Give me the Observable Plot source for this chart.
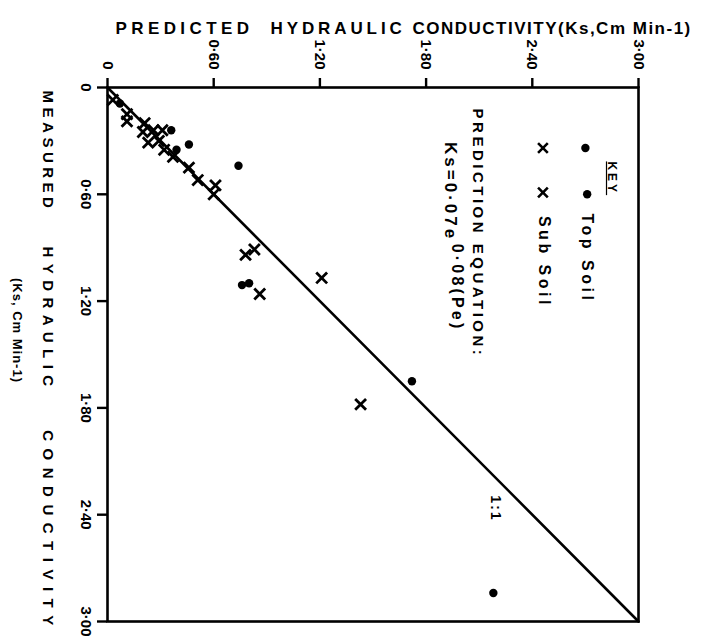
<!DOCTYPE html>
<html><head><meta charset="utf-8">
<script src="https://cdn.jsdelivr.net/npm/d3@7"></script>
<script src="https://cdn.jsdelivr.net/npm/@observablehq/plot@0.6"></script>
<style>body{margin:0;background:#fff}</style>
</head><body><div id="chart"></div>
<script>
// Axis ticks
const tickValues = [0, 0.6, 1.2, 1.8, 2.4, 3.0];
const tickLabels = ["0", "0·60", "1·20", "1·80", "2·40", "3·00"];
// Top soil (dots): predicted Ks, measured Ks
const topSoilPredicted = [0.07, 0.36, 0.39, 0.46, 0.74, 0.76, 0.80, 1.72, 2.18];
const topSoilMeasured  = [0.09, 0.24, 0.35, 0.32, 0.44, 1.11, 1.10, 1.65, 2.84];
// Sub soil (crosses)
const subSoilPredicted = [0.03, 0.11, 0.11, 0.21, 0.20, 0.26, 0.31, 0.23, 0.29, 0.32, 0.37, 0.46, 0.51, 0.61, 0.60, 0.78, 0.83, 0.86, 1.21, 1.43];
const subSoilMeasured  = [0.07, 0.15, 0.19, 0.20, 0.25, 0.24, 0.24, 0.31, 0.30, 0.35, 0.39, 0.45, 0.52, 0.55, 0.60, 0.94, 0.91, 1.16, 1.07, 1.78];
// 1:1 line
const identityLine = [0, 3];
// Axis title words
const predictedTitle = ["PREDICTED", "HYDRAULIC", "CONDUCTIVITY(Ks,Cm Min-1)"];
const measuredTitle = ["MEASURED", "HYDRAULIC", "CONDUCTIVITY"];
// Legend & annotation anchors (data units)
const legendTopSoil = [{p: 2.70, m: 0.34}, {p: 2.71, m: 0.60}];
const legendSubSoil = [{p: 2.46, m: 0.34}, {p: 2.46, m: 0.59}];

const topSoil = topSoilPredicted.map((p, i) => ({p, m: topSoilMeasured[i]}));
const subSoil = subSoilPredicted.map((p, i) => ({p, m: subSoilMeasured[i]}));

const font = "'Liberation Sans', Arial, sans-serif";
const B = {fontWeight: "bold", fill: "black"};

const chart = Plot.plot({
  width: 717, height: 643,
  marginLeft: 107, marginRight: 79, marginTop: 87, marginBottom: 22,
  x: {domain: [0, 3], label: null},
  y: {domain: [0, 3], reverse: true, label: null},
  style: {fontFamily: font, background: "white", color: "black"},
  marks: [
    Plot.frame({stroke: "black", strokeWidth: 2.6}),
    Plot.axisX({anchor: "top", ticks: tickValues, tickSize: 10, tickFormat: () => "", label: null, strokeWidth: 2.4}),
    Plot.axisY({anchor: "left", ticks: tickValues, tickSize: 10, tickFormat: () => "", label: null, strokeWidth: 2.4}),
    Plot.text(tickValues, {x: d => d, text: (d, i) => tickLabels[i], frameAnchor: "top", dy: -18, rotate: 90, textAnchor: "end", lineAnchor: "middle", fontSize: 15, ...B}),
    Plot.text(tickValues, {y: d => d, text: (d, i) => tickLabels[i], frameAnchor: "left", dx: -22, rotate: 90, textAnchor: "middle", lineAnchor: "middle", fontSize: 15, ...B}),
    Plot.line(identityLine, {x: d => d, y: d => d, stroke: "black", strokeWidth: 2.6}),
    Plot.dot(topSoil, {x: "p", y: "m", r: 4.2, fill: "black", stroke: "none"}),
    Plot.dot(subSoil, {x: "p", y: "m", symbol: "times", r: 5, stroke: "black", strokeWidth: 2.8}),
    // predicted axis title (horizontal, above)
    Plot.text([predictedTitle[0]], {frameAnchor: "top-left", dx: 8, dy: -66, textAnchor: "start", fontSize: 17, ...B}),
    Plot.text([predictedTitle[1]], {frameAnchor: "top-left", dx: 163, dy: -66, textAnchor: "start", fontSize: 17, ...B}),
    Plot.text([predictedTitle[2]], {frameAnchor: "top-left", dx: 305, dy: -66, textAnchor: "start", fontSize: 17, ...B}),
    // measured axis title (rotated, left)
    Plot.text([measuredTitle[0]], {frameAnchor: "left", dx: -60, dy: -203, rotate: 90, textAnchor: "middle", fontSize: 15, ...B}),
    Plot.text([measuredTitle[1]], {frameAnchor: "left", dx: -60, dy: -35, rotate: 90, textAnchor: "middle", fontSize: 15, ...B}),
    Plot.text([measuredTitle[2]], {frameAnchor: "left", dx: -60, dy: 177, rotate: 90, textAnchor: "middle", fontSize: 15, ...B}),
    Plot.text(["(Ks, Cm Min-1)"], {frameAnchor: "left", dx: -90, dy: -24, rotate: 90, textAnchor: "middle", fontSize: 13, ...B}),
    // key
    Plot.text([{p: 2.85, m: 0.51}], {x: "p", y: "m", text: () => "KEY", rotate: 90, fontSize: 12, ...B}),
    Plot.dot(legendTopSoil, {x: "p", y: "m", r: 4.2, fill: "black", stroke: "none"}),
    Plot.dot(legendSubSoil, {x: "p", y: "m", symbol: "times", r: 4.5, stroke: "black", strokeWidth: 2.6}),
    Plot.text([{p: 2.71, m: 0.96}], {x: "p", y: "m", text: () => "Top Soil", rotate: 90, fontSize: 16, ...B}),
    Plot.text([{p: 2.465, m: 0.98}], {x: "p", y: "m", text: () => "Sub Soil", rotate: 90, fontSize: 16, ...B}),
    Plot.text([{p: 2.09, m: 0.82}], {x: "p", y: "m", text: () => "PREDICTION EQUATION:", rotate: 90, fontSize: 15, ...B}),
    Plot.text([{p: 1.94, m: 0.585}], {x: "p", y: "m", text: () => "Ks=0·07e", rotate: 90, fontSize: 17, ...B}),
    Plot.text([{p: 1.975, m: 1.124}], {x: "p", y: "m", text: () => "0·08(Pe)", rotate: 90, fontSize: 16, ...B}),
    Plot.text([{p: 2.19, m: 2.365}], {x: "p", y: "m", text: () => "1:1", rotate: 90, fontSize: 14, ...B})
  ]
});

// typographic spacing tweaks
const spacing = {
  "PREDICTED": 4.4,
  "HYDRAULIC": 3.9,
  "CONDUCTIVITY(Ks,Cm Min-1)": 1.5,
  "MEASURED": 4.5,
  "(Ks, Cm Min-1)": 1,
  "KEY": 3,
  "Top Soil": 3.5,
  "Sub Soil": 3.5,
  "PREDICTION EQUATION:": 3.5,
  "Ks=0·07e": 3,
  "0·08(Pe)": 3.2,
  "1:1": 2
};
const rotatedSpacing = {"HYDRAULIC": 6.4, "CONDUCTIVITY": 7.5};
d3.select(chart).selectAll("text").each(function() {
  const t = this.textContent;
  const rotated = (this.getAttribute("transform") || "").includes("rotate");
  if (rotated && rotatedSpacing[t] != null) this.setAttribute("letter-spacing", rotatedSpacing[t]);
  else if (spacing[t] != null) this.setAttribute("letter-spacing", spacing[t]);
  if (t === "KEY") this.setAttribute("text-decoration", "underline");
});
document.getElementById("chart").append(chart);
</script>
</body></html>
